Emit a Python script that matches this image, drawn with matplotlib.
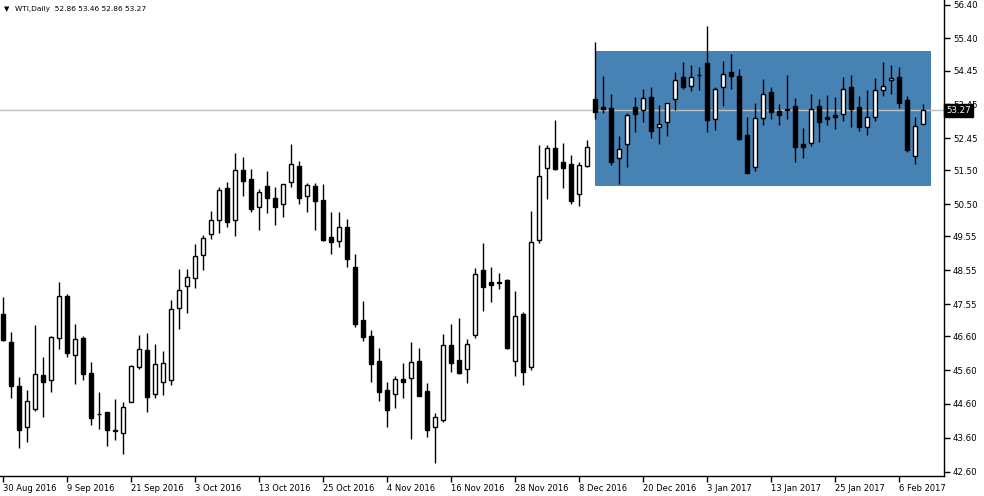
import numpy as np
import matplotlib.pyplot as plt
from matplotlib.patches import Rectangle

# daily WTI bars, 30 Aug 2016 .. 9 Feb 2017
opens = [47.26, 46.43, 45.13, 43.91, 44.46, 45.46, 45.30, 46.54, 47.79, 46.05,
         46.55, 45.51, 44.29, 44.36, 43.82, 43.73, 44.66, 45.70, 46.18, 44.88,
         45.25, 45.31, 47.43, 48.08, 48.31, 48.99, 49.61, 50.03, 50.97, 50.03,
         51.51, 51.24, 50.41, 51.04, 50.67, 50.50, 51.17, 51.63, 50.73, 51.04,
         50.62, 49.52, 49.42, 49.82, 48.64, 47.07, 46.61, 45.87, 45.01, 44.88,
         45.33, 45.36, 45.87, 44.98, 43.91, 44.13, 46.34, 45.90, 45.62, 46.64,
         48.56, 48.20, 48.20, 48.26, 45.86, 47.26, 45.70, 49.44, 51.56, 52.16,
         51.75, 51.69, 50.79, 51.63, 53.60, 53.37, 53.34, 51.86, 52.27, 53.37,
         53.27, 53.67, 52.77, 52.94, 53.62, 54.26, 53.98, 54.31, 54.67, 53.03,
         53.95, 54.41, 54.29, 52.55, 51.59, 53.04, 53.82, 53.25, 53.32, 53.40,
         52.28, 52.32, 53.40, 53.08, 53.13, 53.16, 53.95, 53.36, 52.77, 53.07,
         53.87, 54.16, 54.25, 53.58, 51.92, 52.86]
highs = [47.76, 46.73, 45.40, 45.01, 46.93, 45.99, 46.61, 48.20, 47.85, 46.96,
         46.61, 45.84, 44.94, 44.36, 44.75, 44.66, 45.75, 46.64, 46.70, 46.37,
         46.16, 47.67, 48.59, 48.59, 49.33, 49.59, 50.30, 51.00, 51.16, 52.01,
         51.90, 51.53, 50.95, 51.48, 51.01, 51.10, 52.28, 51.78, 51.12, 51.12,
         51.10, 50.26, 50.26, 50.05, 49.03, 47.64, 46.78, 46.25, 45.24, 45.41,
         45.80, 46.43, 46.24, 45.21, 44.32, 46.67, 46.96, 47.14, 46.52, 48.62,
         49.35, 48.65, 48.47, 48.28, 47.94, 47.32, 50.30, 52.25, 52.24, 52.99,
         52.31, 51.95, 51.75, 52.40, 55.29, 54.29, 53.76, 52.52, 53.19, 53.67,
         53.90, 53.96, 53.43, 53.48, 54.41, 54.70, 54.61, 54.55, 55.77, 53.97,
         54.73, 54.94, 54.50, 53.08, 53.49, 54.20, 53.96, 53.46, 54.32, 53.64,
         52.75, 53.76, 53.61, 53.73, 53.67, 54.26, 54.32, 53.70, 53.87, 54.22,
         54.70, 54.61, 54.55, 53.70, 53.07, 53.46]
lows = [46.46, 44.78, 43.31, 43.48, 44.40, 44.22, 44.96, 46.22, 46.00, 45.20,
        45.30, 43.97, 43.87, 43.37, 43.53, 43.13, 44.66, 45.64, 44.37, 44.78,
        44.86, 45.16, 46.82, 47.30, 48.03, 48.55, 49.46, 49.66, 49.82, 49.57,
        50.75, 50.28, 49.73, 50.25, 49.90, 50.13, 51.02, 50.51, 50.28, 49.74,
        49.41, 49.04, 49.25, 48.65, 46.88, 46.47, 45.26, 44.70, 43.93, 44.49,
        44.78, 43.56, 44.83, 43.63, 42.86, 44.07, 45.54, 45.48, 45.23, 46.56,
        47.35, 47.62, 48.00, 46.22, 45.43, 45.16, 45.60, 49.35, 50.66, 51.51,
        50.99, 50.52, 50.46, 51.61, 53.01, 53.19, 51.67, 51.09, 51.61, 52.64,
        52.94, 52.46, 52.29, 52.52, 53.28, 53.91, 53.85, 53.87, 52.64, 52.69,
        53.40, 53.90, 52.40, 51.41, 51.49, 52.84, 53.02, 52.84, 53.02, 51.76,
        51.87, 52.22, 52.35, 52.84, 52.73, 52.97, 52.79, 52.67, 52.55, 52.97,
        53.71, 53.77, 53.33, 52.05, 51.70, 52.86]
closes = [46.49, 45.14, 43.84, 44.68, 45.48, 45.26, 46.58, 47.79, 46.11, 46.51,
          45.48, 44.18, 44.29, 43.84, 43.81, 44.51, 45.72, 46.21, 44.81, 45.77,
          45.81, 47.40, 47.96, 48.34, 48.96, 49.49, 50.03, 50.91, 49.98, 51.50,
          51.19, 50.36, 50.86, 50.69, 50.43, 51.10, 51.69, 50.67, 51.07, 50.60,
          49.43, 49.39, 49.82, 48.89, 46.96, 46.59, 45.79, 44.96, 44.43, 45.33,
          45.26, 45.83, 44.83, 43.84, 44.21, 46.33, 45.82, 45.51, 46.36, 48.44,
          48.06, 48.12, 48.18, 46.24, 47.19, 45.55, 49.39, 51.33, 52.16, 51.53,
          51.58, 50.60, 51.65, 52.18, 53.23, 53.32, 51.76, 52.12, 53.14, 53.17,
          53.63, 52.67, 52.87, 53.48, 54.16, 53.97, 54.26, 54.31, 53.00, 53.90,
          54.34, 54.30, 52.43, 51.42, 53.04, 53.75, 53.23, 53.14, 53.28, 52.20,
          52.20, 53.30, 52.94, 53.03, 53.08, 53.90, 53.30, 52.79, 53.07, 53.87,
          53.98, 54.24, 53.50, 52.11, 52.80, 53.27]

date_labels = ['30 Aug 2016', '9 Sep 2016', '21 Sep 2016', '3 Oct 2016', '13 Oct 2016',
               '25 Oct 2016', '4 Nov 2016', '16 Nov 2016', '28 Nov 2016', '8 Dec 2016',
               '20 Dec 2016', '3 Jan 2017', '13 Jan 2017', '25 Jan 2017', '6 Feb 2017']
date_bars = [0, 8, 16, 24, 32, 40, 48, 56, 64, 72, 80, 88, 96, 104, 112]
price_ticks = [56.40, 55.40, 54.45, 53.45, 52.45, 51.50, 50.50, 49.55, 48.55,
               47.55, 46.60, 45.60, 44.60, 43.60, 42.60]

last_price = 53.27
box_bars = (74, 116)
box_prices = (51.04, 55.03)

o = np.array(opens)
h = np.array(highs)
l = np.array(lows)
c = np.array(closes)
x = np.arange(len(o))

fig = plt.figure(figsize=(9.84, 4.96), dpi=100)
ax = fig.add_axes([0, 20 / 496, 944 / 984, 476 / 496])

# rectangle object
ax.add_patch(Rectangle((box_bars[0], box_prices[0]), box_bars[1] - box_bars[0],
                       box_prices[1] - box_prices[0], facecolor='#4682B4',
                       edgecolor='none', zorder=1))

# bid line
ax.axhline(last_price, color='#C0C0C0', lw=1, zorder=2)

# candles
ax.vlines(x, l, h, color='black', lw=1, zorder=3)
up = c >= o
bottom = np.minimum(o, c)
height = np.maximum(np.abs(c - o), 0.001)
ax.bar(x[up], height[up], bottom=bottom[up], width=0.6, facecolor='white',
       edgecolor='black', lw=1, zorder=4)
ax.bar(x[~up], height[~up], bottom=bottom[~up], width=0.6, facecolor='black',
       edgecolor='black', lw=1, zorder=4)

ax.set_xlim(-0.375, 117.625)
ax.set_ylim(42.47, 56.533)

for s in ['top', 'left']:
    ax.spines[s].set_visible(False)
ax.spines['right'].set_linewidth(1)
ax.spines['bottom'].set_linewidth(1)

ax.yaxis.tick_right()
ax.set_yticks(price_ticks)
ax.set_yticklabels([f'{p:.2f}' for p in price_ticks])
ax.tick_params(axis='y', length=4, width=1, pad=2.5, labelsize=6.2)

ax.set_xticks(date_bars)
ax.set_xticklabels(date_labels, ha='left')
ax.tick_params(axis='x', length=4, width=1, pad=2, labelsize=6)

# current price tag
ax.annotate(f'{last_price:.2f}', xy=(1, last_price), xycoords=('axes fraction', 'data'),
            xytext=(1.5, 0), textcoords='offset points', ha='left', va='center',
            fontsize=6.2, color='white',
            bbox=dict(boxstyle='square,pad=0.25', fc='black', ec='black'), zorder=10,
            annotation_clip=False)

ax.text(0.004, 0.988, '\u25bc', transform=ax.transAxes,
        ha='left', va='top', fontsize=5)
ax.text(0.016, 0.988, 'WTI,Daily  52.86 53.46 52.86 53.27', transform=ax.transAxes,
        ha='left', va='top', fontsize=5.3)

fig.savefig('out.png', dpi=100)
